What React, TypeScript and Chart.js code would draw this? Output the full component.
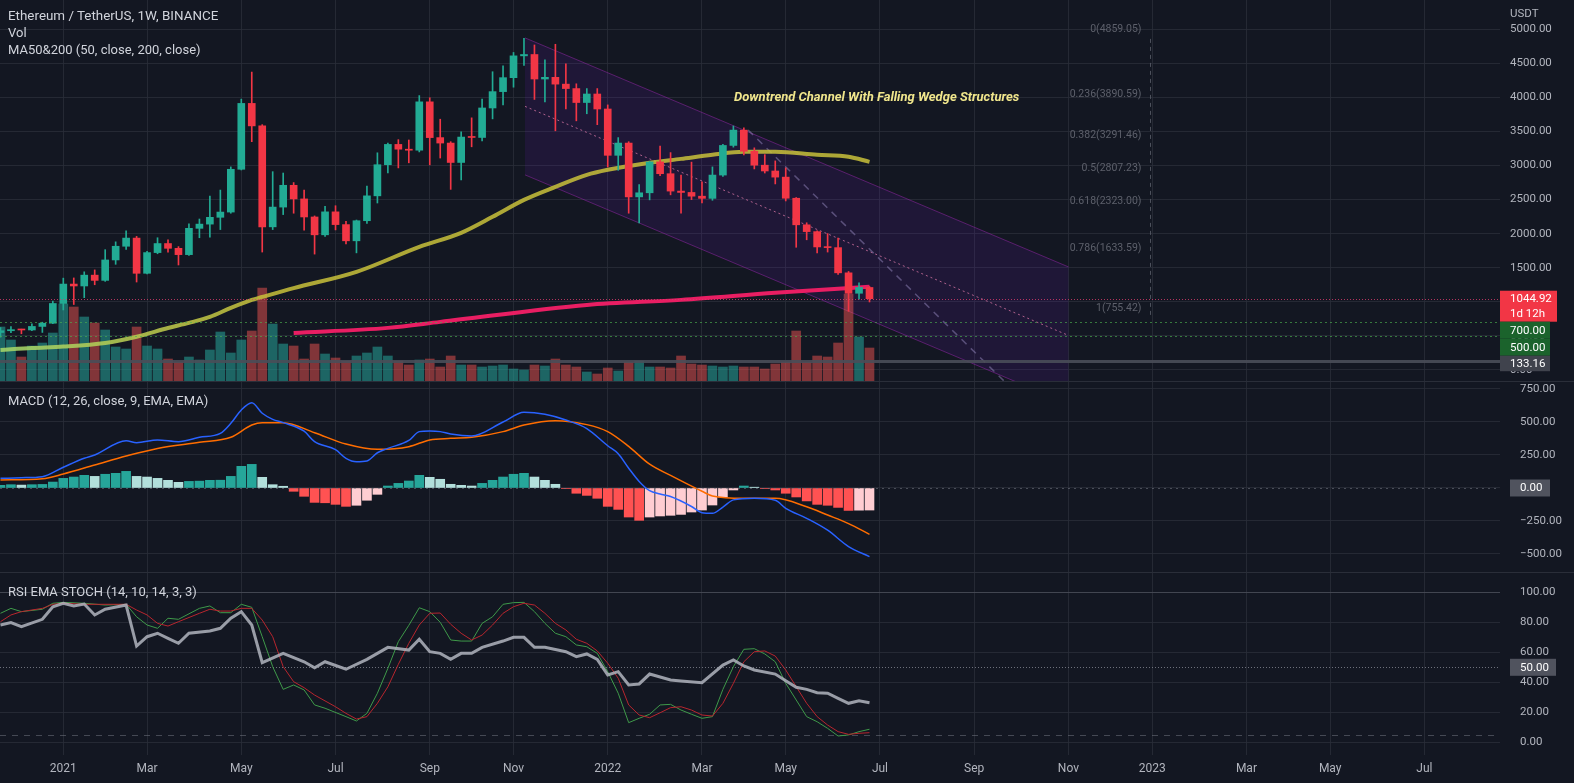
import React, { useEffect, useRef } from 'react';
import { Chart, registerables } from 'chart.js';

Chart.register(...registerables);

// ---------- layout constants ----------
const WIDTH = 1574;
const PRICE_H = 382;
const MACD_H = 191;
const RSI_H = 210;
const AXIS_W = 74;
const GRID = 'rgba(42,46,57,0.8)';
const BG = '#131722';
const TXT = '#b2b5be';
const FONT = 'Roboto, "Liberation Sans", sans-serif';

// ---------- time axis (week index, 0 = week of 4 Jan 2021) ----------
const FIRST_WEEK = -6;
const X_MIN = -6.046;
const X_MAX = 137.22;
const tickWeeks = [0, 8, 17, 26, 35, 43, 52, 61, 69, 78, 87, 96, 104, 113, 121, 130];
const tickLabels = ['2021', 'Mar', 'May', 'Jul', 'Sep', 'Nov', '2022', 'Mar', 'May', 'Jul', 'Sep', 'Nov', '2023', 'Mar', 'May', 'Jul'];

// ---------- weekly candles ETH/USDT (Nov 23 2020 .. Jun 27 2022) ----------
const opens = [549, 575, 591, 586, 638, 685, 975, 1260, 1232, 1391, 1314, 1614, 1815, 1935, 1418, 1722, 1855, 1785, 1692, 2078, 2140, 2240, 2317, 2945, 3912, 3582, 2100, 2390, 2710, 2510, 2245, 1983, 2320, 2133, 1895, 2190, 2555, 3012, 3310, 3240, 3225, 3935, 3410, 3330, 3045, 3418, 3412, 3845, 4085, 4290, 4610, 4630, 4270, 4295, 4195, 4130, 3925, 4050, 3830, 3150, 3330, 2540, 2600, 3053, 2880, 2625, 2605, 2550, 2518, 2860, 3295, 3520, 3210, 3005, 2920, 2830, 2520, 2130, 2030, 1805, 1795, 1425, 1125, 1210];
const highs = [623, 635, 598, 676, 700, 1010, 1347, 1350, 1440, 1468, 1765, 1880, 2040, 1960, 1740, 1940, 1910, 1810, 2145, 2215, 2550, 2640, 2980, 3975, 4372, 3600, 2910, 2890, 2750, 2640, 2260, 2400, 2410, 2180, 2200, 2700, 3187, 3330, 3380, 3375, 4027, 3995, 3680, 3350, 3494, 3700, 3975, 4377, 4463, 4660, 4868, 4770, 4550, 4780, 4493, 4200, 4130, 4130, 3890, 3410, 3350, 2720, 3060, 3285, 3190, 2860, 3050, 2760, 2980, 3310, 3580, 3552, 3260, 3160, 3068, 2965, 2530, 2160, 2040, 2000, 1935, 1445, 1280, 1225];
const lows = [480, 545, 530, 575, 550, 680, 880, 960, 1060, 1250, 1300, 1550, 1770, 1290, 1410, 1705, 1730, 1540, 1680, 1940, 1950, 2060, 2300, 2935, 3350, 1730, 2060, 2280, 2300, 2050, 1700, 1960, 2055, 1850, 1718, 2150, 2450, 2890, 2965, 3040, 3200, 3010, 3110, 2650, 2790, 3275, 3360, 3685, 3890, 4150, 4470, 3970, 3935, 3510, 3830, 3656, 3760, 3600, 2980, 2930, 2300, 2159, 2496, 2850, 2570, 2300, 2500, 2450, 2490, 2840, 3270, 3156, 2950, 2890, 2730, 2480, 1800, 1910, 1716, 1730, 1400, 860, 1040, 997];
const closes = [575, 591, 586, 638, 685, 975, 1260, 1232, 1391, 1314, 1614, 1815, 1935, 1418, 1722, 1855, 1785, 1692, 2078, 2140, 2240, 2317, 2945, 3912, 3582, 2100, 2390, 2710, 2510, 2245, 1983, 2320, 2133, 1895, 2190, 2555, 3012, 3310, 3240, 3225, 3935, 3410, 3330, 3045, 3418, 3412, 3845, 4085, 4290, 4610, 4630, 4270, 4295, 4195, 4130, 3925, 4050, 3830, 3150, 3330, 2540, 2600, 3053, 2880, 2625, 2605, 2550, 2518, 2860, 3295, 3520, 3210, 3005, 2920, 2830, 2520, 2130, 2030, 1805, 1795, 1425, 1125, 1210, 1044.92];
// volume, millions of ETH
const volumes = [8.25, 6.3, 3.75, 5.4, 5.85, 7.35, 11.7, 11.25, 9.75, 8.85, 7.8, 5.25, 4.95, 8.25, 5.4, 4.95, 3.45, 3.0, 3.75, 3.3, 4.8, 7.5, 4.35, 6.3, 7.65, 14.1, 8.7, 5.7, 5.4, 3.45, 5.7, 4.2, 3.6, 3.15, 3.9, 4.35, 5.25, 3.9, 3.15, 2.55, 3.3, 3.45, 2.25, 3.9, 2.55, 2.55, 2.25, 2.4, 2.55, 1.95, 1.8, 2.55, 2.4, 3.45, 2.55, 2.25, 1.5, 1.2, 2.1, 1.65, 3.0, 3.15, 2.25, 2.25, 2.1, 3.9, 2.7, 2.55, 2.4, 2.25, 2.4, 2.25, 2.25, 1.95, 2.7, 3.0, 7.65, 3.0, 3.9, 3.75, 5.85, 13.2, 6.75, 5.1];
const VOL_MAX = 57.3;
const priceTicks = [0, 500, 1000, 1500, 2000, 2500, 3000, 3500, 4000, 4500, 5000];

// moving averages (sampled)
const ma50Weeks = [-6, -3, 0, 4, 7, 10, 12, 14, 16, 18, 19, 22, 28, 34, 38, 41, 44, 47, 50, 52, 56, 59, 62, 65, 68, 72, 75, 77];
const ma50Values = [293, 322, 342, 395, 487, 615, 690, 778, 910, 1027, 1071, 1200, 1439, 1806, 2012, 2247, 2496, 2687, 2863, 2937, 3040, 3098, 3157, 3201, 3201, 3157, 3128, 3054];
const ma200Weeks = [22, 31, 36, 50, 59, 68, 77];
const ma200Values = [543, 617, 705, 954, 1028, 1131, 1219];

// drawings
const channelWeeks = [44.1, 96.0];
const channelUpper = [4874, 1512];
const channelLower = [2863, -499];
const wedgeWeeks = [65.4, 90];
const wedgePrices = [3522, -185];
const fibWeek = 103.8;
const fibRatios = ['0', '0.236', '0.382', '0.5', '0.618', '0.786', '1'];
const fibPrices = [4859.05, 3890.59, 3291.46, 2807.23, 2323.0, 1633.59, 755.42];
const lastPrice = 1044.92;
const greenLevels = [700, 500];
const grayLevel = 133.16;

// ---------- MACD ----------
const macdHist = [20, 25, 22, 25, 27, 45, 73, 83, 96, 88, 104, 111, 126, 88, 83, 73, 58, 43, 50, 52, 58, 59, 88, 164, 179, 81, 25, 13, -25, -63, -109, -112, -124, -139, -131, -93, -48, 15, 35, 53, 96, 81, 66, 28, 20, 15, 35, 58, 83, 104, 111, 83, 58, 28, -3, -40, -56, -78, -139, -162, -220, -245, -220, -212, -207, -200, -182, -167, -129, -68, -15, 15, 6, -3, -15, -40, -68, -98, -124, -131, -147, -170, -168, -167];
const macdWeeks = [-6, -4, -2, 0, 2, 3, 6, 7, 9, 11, 13, 15, 16, 17, 18, 19, 20, 21, 23, 24, 26, 27, 28, 29, 30, 31, 33, 34, 35, 36, 37, 39, 42, 44, 46, 48, 50, 52, 53, 54, 55, 56, 57, 58, 60, 61, 62, 63, 64, 66, 68, 69, 71, 73, 75, 77];
const macdValues = [73, 78, 86, 157, 225, 250, 358, 343, 364, 351, 384, 414, 490, 591, 646, 566, 520, 495, 430, 351, 290, 225, 199, 205, 267, 300, 360, 427, 432, 427, 409, 394, 500, 573, 558, 515, 450, 320, 260, 150, 50, -20, -45, -65, -140, -187, -192, -145, -90, -78, -93, -154, -230, -320, -444, -520];
const signalWeeks = [-6, -2, 0, 3, 6, 9, 13, 16, 18, 19, 21, 24, 27, 30, 33, 35, 37, 39, 42, 44, 47, 50, 52, 54, 56, 58, 61, 62, 65, 68, 71, 73, 75, 77];
const signalValues = [61, 70, 106, 174, 242, 300, 346, 384, 477, 495, 495, 419, 333, 293, 313, 364, 376, 384, 427, 477, 510, 480, 427, 315, 180, 95, -25, -60, -78, -78, -142, -205, -270, -351];
const macdTicks = [-500, -250, 0, 250, 500, 750];

// ---------- RSI EMA STOCH ----------
const rsiWeeks = [-6, -5, -4, -2, -1, 0, 1, 2, 3, 4, 6, 7, 8, 9, 10, 11, 12, 14, 15, 16, 17, 18, 19, 21, 23, 24, 25, 27, 29, 31, 33, 34, 35, 36, 37, 38, 39, 40, 42, 43, 44, 45, 46, 48, 49, 50, 51, 52, 53, 54, 55, 56, 58, 59, 61, 63, 64, 65, 66, 68, 69, 70, 71, 72, 73, 74, 75, 76, 77];
const rsiValues = [78.2, 79.8, 77.1, 82, 90.4, 92.7, 90.9, 92.2, 84.9, 88.7, 91.5, 64.2, 70.4, 72.7, 69.3, 66, 72.7, 74.2, 76, 82.7, 87.1, 78.2, 53.1, 59.3, 53.7, 49.7, 53.7, 48.7, 55.3, 63.3, 61.5, 68.7, 60.4, 59.3, 55.3, 59.3, 59.3, 63.3, 67.5, 70, 70, 63.3, 63.3, 60.4, 57.1, 58.9, 55.3, 44.9, 47.1, 38.2, 38.9, 45.5, 41.5, 40.9, 39.7, 51.5, 54.9, 50.9, 48.2, 45.5, 41.1, 36.7, 35.3, 33.1, 32.7, 29.3, 26, 27.7, 26.4];
const kWeeks = [-6, -5, -4, -2, -1, 0, 2, 4, 6, 7, 8, 9, 10, 11, 13, 14, 15, 16, 17, 18, 19, 20, 21, 22, 23, 24, 25, 27, 28, 29, 30, 31, 32, 33, 34, 35, 36, 37, 38, 39, 40, 41, 42, 43, 44, 45, 46, 47, 48, 49, 50, 51, 52, 53, 54, 55, 56, 57, 58, 59, 60, 61, 62, 63, 64, 65, 66, 67, 68, 69, 70, 71, 72, 73, 74, 75, 76, 77];
const kValues = [86, 89.3, 87.1, 88.7, 92.7, 93.3, 92.7, 91.5, 92, 83.7, 78.2, 76, 82.7, 82, 89.3, 90.9, 86.4, 86.4, 92, 90, 70.4, 50.4, 35.3, 38.2, 34.9, 24.9, 22.7, 17.1, 14.2, 19.3, 32.7, 49.3, 67.1, 78, 89.7, 87.1, 80, 68.2, 67.5, 67.5, 79.3, 83.7, 92, 93.1, 93.3, 87.1, 79.3, 72.7, 70.4, 64.9, 63.7, 59.3, 47.1, 32.7, 13.1, 16, 18.7, 24.9, 25.3, 21.5, 18.7, 16, 17.1, 35.3, 50.4, 62, 62.4, 58.9, 53.7, 39.3, 28.2, 17.1, 13.7, 9.3, 4.2, 4.9, 7.1, 8.7];
const dWeeks = [-6, -5, -4, -2, -1, 0, 2, 6, 7, 8, 9, 10, 11, 13, 14, 15, 16, 17, 18, 19, 20, 21, 22, 23, 24, 26, 27, 28, 29, 30, 31, 32, 33, 34, 35, 36, 37, 38, 39, 40, 41, 42, 43, 44, 45, 46, 47, 48, 49, 50, 51, 52, 53, 54, 55, 56, 57, 58, 59, 60, 61, 62, 63, 64, 65, 66, 67, 68, 69, 70, 71, 72, 73, 74, 75, 76, 77];
const dValues = [80.4, 84.9, 87.1, 89.3, 92, 92.7, 92, 92, 88.2, 84.9, 79.3, 77.5, 80.4, 86, 88.7, 87.5, 87.5, 89.3, 89.3, 81.5, 70.4, 50.4, 40.4, 36.4, 31.5, 23.7, 19.3, 15.5, 17.1, 26, 37, 52, 66, 78.2, 86, 86.2, 78.7, 72.7, 68.2, 71.5, 78.2, 86, 90.4, 92.7, 91.5, 86, 79.3, 74.9, 68.7, 66, 60.9, 52.7, 42.7, 24.9, 18.2, 16.4, 19.7, 23.1, 23.7, 21.5, 18.2, 17.5, 26, 39.3, 53.7, 60.4, 60.9, 57.5, 48.2, 37.1, 26, 17.1, 11.5, 7.1, 5.3, 6, 6.4];
const rsiTicks = [0, 20, 40, 60, 80, 100];

// ---------- helpers ----------
const UP = '#22ab94';
const DOWN = '#f23645';
const weeks = opens.map((_, i) => FIRST_WEEK + i);
const pts = (ws: number[], vs: number[]) => ws.map((w, i) => ({ x: w, y: vs[i] }));
const fmt2 = (v: number) => v.toFixed(2).replace('-', '\u2212');

function xScale(showLabels: boolean): any {
  return {
    type: 'linear',
    min: X_MIN,
    max: X_MAX,
    offset: false,
    grid: { color: GRID, drawTicks: false, offset: false },
    border: { display: false },
    ticks: {
      display: showLabels,
      autoSkip: false,
      maxRotation: 0,
      padding: 7,
      color: TXT,
      font: { size: 12, family: FONT },
      callback: (_v: any, i: number) => tickLabels[i] ?? '',
    },
    afterBuildTicks: (s: any) => {
      s.ticks = tickWeeks.map((v) => ({ value: v }));
    },
    afterFit: (s: any) => {
      s.height = showLabels ? 28 : 0;
      s.paddingLeft = 0;
      s.paddingRight = 0;
    },
  };
}

function yScale(min: number, max: number, ticks: number[], padding: number): any {
  return {
    type: 'linear',
    position: 'right',
    min,
    max,
    grid: { color: GRID, drawTicks: false },
    border: { display: false },
    ticks: {
      color: TXT,
      padding,
      autoSkip: false,
      font: { size: 11.5, family: FONT },
      callback: (v: any) => fmt2(Number(v)),
    },
    afterBuildTicks: (s: any) => {
      s.ticks = ticks.map((v) => ({ value: v }));
    },
    afterFit: (s: any) => {
      s.width = AXIS_W;
      s.paddingTop = 0;
      s.paddingBottom = 0;
    },
  };
}

function baseOptions(scales: any): any {
  return {
    responsive: false,
    maintainAspectRatio: false,
    animation: false,
    devicePixelRatio: 1,
    events: [],
    layout: { padding: 0 },
    plugins: { legend: { display: false }, tooltip: { enabled: false } },
    scales,
  };
}

function clipArea(ctx: CanvasRenderingContext2D, a: any) {
  ctx.beginPath();
  ctx.rect(a.left, a.top, a.right - a.left, a.bottom - a.top);
  ctx.clip();
}

function hline(ctx: CanvasRenderingContext2D, a: any, y: number, color: string, width: number, dash: number[]) {
  ctx.save();
  ctx.strokeStyle = color;
  ctx.lineWidth = width;
  ctx.setLineDash(dash);
  ctx.beginPath();
  ctx.moveTo(a.left, Math.round(y) + 0.5);
  ctx.lineTo(a.right, Math.round(y) + 0.5);
  ctx.stroke();
  ctx.restore();
}

function labelBox(ctx: CanvasRenderingContext2D, x0: number, x1: number, top: number, h: number, fill: string, lines: string[], textX: number) {
  ctx.save();
  ctx.fillStyle = fill;
  ctx.fillRect(x0, top, x1 - x0, h);
  ctx.fillStyle = '#ffffff';
  ctx.font = `11.5px ${FONT}`;
  ctx.textAlign = 'left';
  ctx.textBaseline = 'middle';
  const lh = h / lines.length;
  lines.forEach((t, i) => ctx.fillText(t, textX, top + lh * i + lh / 2 + 0.5));
  ctx.restore();
}

// ---------- plugins ----------
const pricePlugin = {
  id: 'priceDecor',
  beforeDatasetsDraw(chart: any) {
    const { ctx, chartArea: a, scales } = chart;
    const X = (w: number) => scales.x.getPixelForValue(w);
    const Y = (p: number) => scales.y.getPixelForValue(p);
    ctx.save();
    clipArea(ctx, a);
    const [w0, w1] = channelWeeks;
    // channel fill
    ctx.beginPath();
    ctx.moveTo(X(w0), Y(channelUpper[0]));
    ctx.lineTo(X(w1), Y(channelUpper[1]));
    ctx.lineTo(X(w1), Y(channelLower[1]));
    ctx.lineTo(X(w0), Y(channelLower[0]));
    ctx.closePath();
    ctx.fillStyle = 'rgba(100,30,180,0.15)';
    ctx.fill();
    // channel borders
    ctx.strokeStyle = 'rgba(156,39,176,0.5)';
    ctx.lineWidth = 1;
    ctx.beginPath();
    ctx.moveTo(X(w0), Y(channelUpper[0]));
    ctx.lineTo(X(w1), Y(channelUpper[1]));
    ctx.moveTo(X(w0), Y(channelLower[0]));
    ctx.lineTo(X(w1), Y(channelLower[1]));
    ctx.stroke();
    // midline
    ctx.strokeStyle = 'rgba(236,128,175,0.7)';
    ctx.setLineDash([2, 3]);
    ctx.beginPath();
    ctx.moveTo(X(w0), Y((channelUpper[0] + channelLower[0]) / 2));
    ctx.lineTo(X(w1), Y((channelUpper[1] + channelLower[1]) / 2));
    ctx.stroke();
    // wedge line
    ctx.strokeStyle = 'rgba(150,135,190,0.5)';
    ctx.lineWidth = 1.5;
    ctx.setLineDash([7, 6]);
    ctx.beginPath();
    ctx.moveTo(X(wedgeWeeks[0]), Y(wedgePrices[0]));
    ctx.lineTo(X(wedgeWeeks[1]), Y(wedgePrices[1]));
    ctx.stroke();
    // fib vertical line
    ctx.strokeStyle = 'rgba(93,96,107,0.8)';
    ctx.lineWidth = 1;
    ctx.setLineDash([4, 4]);
    const fx = Math.round(X(fibWeek)) + 0.5;
    ctx.beginPath();
    ctx.moveTo(fx, Y(fibPrices[0]));
    ctx.lineTo(fx, Y(fibPrices[fibPrices.length - 1]));
    ctx.stroke();
    ctx.setLineDash([]);
    // fib labels
    ctx.fillStyle = '#5d606b';
    ctx.font = `10.5px ${FONT}`;
    ctx.textAlign = 'right';
    ctx.textBaseline = 'middle';
    fibPrices.forEach((p, i) => {
      ctx.fillText(`${fibRatios[i]}(${p.toFixed(2)})`, fx - 9, Y(p) - 10);
    });
    ctx.restore();
  },
  afterDatasetsDraw(chart: any) {
    const { ctx, chartArea: a, scales } = chart;
    const Y = (p: number) => scales.y.getPixelForValue(p);
    ctx.save();
    clipArea(ctx, a);
    hline(ctx, a, Y(grayLevel), 'rgba(74,78,89,0.9)', 3, []);
    greenLevels.forEach((v) => hline(ctx, a, Y(v), 'rgba(76,175,80,0.65)', 1, [2, 3]));
    hline(ctx, a, Y(lastPrice), 'rgba(220,60,110,0.8)', 1, [1, 2]);
    ctx.restore();
  },
  afterDraw(chart: any) {
    const { ctx, chartArea: a, scales } = chart;
    const Y = (p: number) => scales.y.getPixelForValue(p);
    const x0 = a.right;
    const tx = a.right + 10;
    // current price box
    const redTop = Y(lastPrice) - 8;
    labelBox(ctx, x0, x0 + 57, redTop, 31, DOWN, [lastPrice.toFixed(2), '1d 12h'], tx);
    let prevBottom = redTop + 31;
    greenLevels.forEach((v) => {
      const top = Math.max(Y(v) - 8.5, prevBottom);
      labelBox(ctx, x0, x0 + 50, top, 17, '#1b632c', [v.toFixed(2)], tx);
      prevBottom = top + 17;
    });
    const gTop = Math.max(Y(grayLevel) - 8.5, prevBottom);
    labelBox(ctx, x0, x0 + 50, gTop, 15.5, '#40434d', [grayLevel.toFixed(2)], tx);
  },
};

const macdPlugin = {
  id: 'macdDecor',
  afterDatasetsDraw(chart: any) {
    const { ctx, chartArea: a, scales } = chart;
    hline(ctx, a, scales.y.getPixelForValue(0), 'rgba(120,123,134,0.55)', 1, [2, 4]);
  },
  afterDraw(chart: any) {
    const { ctx, chartArea: a, scales } = chart;
    const y0 = scales.y.getPixelForValue(0);
    labelBox(ctx, a.right + 10, a.right + 50, y0 - 8.5, 17, '#50535e', ['0.00'], a.right + 20);
  },
};

const rsiPlugin = {
  id: 'rsiDecor',
  beforeDatasetsDraw(chart: any) {
    const { ctx, chartArea: a, scales } = chart;
    const Y = (v: number) => scales.y.getPixelForValue(v);
    hline(ctx, a, Y(100), 'rgba(120,123,134,0.35)', 1, []);
    hline(ctx, a, Y(5), 'rgba(120,123,134,0.5)', 1, [6, 6]);
    hline(ctx, a, Y(50), 'rgba(140,143,154,0.75)', 1, [1, 2]);
  },
  afterDraw(chart: any) {
    const { ctx, chartArea: a, scales } = chart;
    const y = scales.y.getPixelForValue(50);
    labelBox(ctx, a.right + 10, a.right + 56, y - 8.5, 17, '#50535e', ['50.00'], a.right + 20);
  },
};

// ---------- component ----------
export default function App() {
  const priceRef = useRef<HTMLCanvasElement>(null);
  const macdRef = useRef<HTMLCanvasElement>(null);
  const rsiRef = useRef<HTMLCanvasElement>(null);

  useEffect(() => {
    Chart.defaults.font.family = FONT;
    const candleColors = opens.map((o, i) => (closes[i] >= o ? UP : DOWN));
    const volColors = opens.map((o, i) => (closes[i] >= o ? 'rgba(38,166,154,0.55)' : 'rgba(239,83,80,0.5)'));

    const ma50Color = (c: any) => {
      const chart = c.chart;
      const area = chart.chartArea;
      if (!area) return 'rgba(201,193,58,0.85)';
      const g = chart.ctx.createLinearGradient(area.left, 0, area.right, 0);
      g.addColorStop(0, 'rgba(160,210,106,0.9)');
      g.addColorStop(0.1, 'rgba(185,201,77,0.88)');
      g.addColorStop(0.18, 'rgba(201,193,58,0.85)');
      g.addColorStop(1, 'rgba(201,193,58,0.85)');
      return g;
    };

    const price = new Chart(priceRef.current!, {
      type: 'bar',
      data: {
        datasets: [
          {
            type: 'bar',
            label: 'Vol',
            yAxisID: 'yv',
            data: weeks.map((w, i) => ({ x: w, y: volumes[i] })) as any,
            backgroundColor: volColors,
            barThickness: 9,
            grouped: false,
            order: 10,
          } as any,
          {
            type: 'line',
            label: 'MA200',
            yAxisID: 'y',
            data: pts(ma200Weeks, ma200Values),
            borderColor: '#e91e63',
            borderWidth: 4,
            pointRadius: 0,
            cubicInterpolationMode: 'monotone',
            order: 4,
          },
          {
            type: 'line',
            label: 'MA50',
            yAxisID: 'y',
            data: pts(ma50Weeks, ma50Values),
            borderColor: ma50Color,
            borderWidth: 4,
            pointRadius: 0,
            cubicInterpolationMode: 'monotone',
            order: 3,
          },
          {
            type: 'bar',
            label: 'wick',
            yAxisID: 'y',
            data: weeks.map((w, i) => ({ x: w, y: [lows[i], highs[i]] })) as any,
            backgroundColor: candleColors,
            barThickness: 1,
            grouped: false,
            order: 1,
          } as any,
          {
            type: 'bar',
            label: 'body',
            yAxisID: 'y',
            data: weeks.map((w, i) => ({ x: w, y: [opens[i], closes[i]] })) as any,
            backgroundColor: candleColors,
            barThickness: 7,
            minBarLength: 1,
            grouped: false,
            order: 0,
          } as any,
        ],
      },
      options: baseOptions({
        x: xScale(false),
        y: yScale(-177.6, 5430, priceTicks, 10),
        yv: { type: 'linear', display: false, min: 0, max: VOL_MAX },
      }),
      plugins: [pricePlugin],
    });

    const histColors = macdHist.map((v, i) => {
      const p = i > 0 ? macdHist[i - 1] : v - 1;
      if (v >= 0) return p < v ? '#26a69a' : '#b2dfdb';
      return p < v ? '#ffcdd2' : '#ff5252';
    });

    const macd = new Chart(macdRef.current!, {
      type: 'bar',
      data: {
        datasets: [
          {
            type: 'bar',
            label: 'Histogram',
            data: weeks.map((w, i) => ({ x: w, y: macdHist[i] })) as any,
            backgroundColor: histColors,
            barThickness: 9,
            grouped: false,
            order: 5,
          } as any,
          {
            type: 'line',
            label: 'Signal',
            data: pts(signalWeeks, signalValues),
            borderColor: '#ff6d00',
            borderWidth: 1.5,
            pointRadius: 0,
            cubicInterpolationMode: 'monotone',
            order: 1,
          },
          {
            type: 'line',
            label: 'MACD',
            data: pts(macdWeeks, macdValues),
            borderColor: '#2962ff',
            borderWidth: 1.5,
            pointRadius: 0,
            cubicInterpolationMode: 'monotone',
            order: 0,
          },
        ],
      },
      options: baseOptions({
        x: xScale(false),
        y: yScale(-644, 803, macdTicks, 20),
      }),
      plugins: [macdPlugin],
    });

    const rsi = new Chart(rsiRef.current!, {
      type: 'line',
      data: {
        datasets: [
          {
            label: 'K',
            data: pts(kWeeks, kValues),
            borderColor: '#3f9a4a',
            borderWidth: 1,
            pointRadius: 0,
            order: 2,
          },
          {
            label: 'D',
            data: pts(dWeeks, dValues),
            borderColor: '#b8262e',
            borderWidth: 1,
            pointRadius: 0,
            order: 1,
          },
          {
            label: 'RSI EMA',
            data: pts(rsiWeeks, rsiValues),
            borderColor: 'rgba(178,181,190,0.85)',
            borderWidth: 3,
            pointRadius: 0,
            order: 0,
          },
        ],
      },
      options: baseOptions({
        x: xScale(true),
        y: yScale(-8.47, 112.87, rsiTicks, 20),
      }),
      plugins: [rsiPlugin],
    });

    return () => {
      price.destroy();
      macd.destroy();
      rsi.destroy();
    };
  }, []);

  const legend: React.CSSProperties = {
    position: 'absolute',
    left: 8,
    font: `13px ${FONT}`,
    lineHeight: '16px',
    color: '#d1d4dc',
    whiteSpace: 'nowrap',
  };

  return (
    <div style={{ position: 'fixed', left: 0, top: 0, width: WIDTH, height: 783, background: BG, overflow: 'hidden' }}>
      <canvas ref={priceRef} width={WIDTH} height={PRICE_H} style={{ position: 'absolute', left: 0, top: 0 }} />
      <canvas ref={macdRef} width={WIDTH} height={MACD_H} style={{ position: 'absolute', left: 0, top: PRICE_H }} />
      <canvas ref={rsiRef} width={WIDTH} height={RSI_H} style={{ position: 'absolute', left: 0, top: PRICE_H + MACD_H }} />
      <div style={{ position: 'absolute', left: 0, top: PRICE_H - 1, width: WIDTH, height: 1, background: '#2a2e39' }} />
      <div style={{ position: 'absolute', left: 0, top: PRICE_H + MACD_H - 1, width: WIDTH, height: 1, background: '#2a2e39' }} />
      <div style={{ ...legend, top: 8, fontSize: 13.4 }}>Ethereum / TetherUS, 1W, BINANCE</div>
      <div style={{ ...legend, top: 25 }}>Vol</div>
      <div style={{ ...legend, top: 42 }}>MA50&amp;200 (50, close, 200, close)</div>
      <div style={{ ...legend, top: 392.7 }}>MACD (12, 26, close, 9, EMA, EMA)</div>
      <div style={{ ...legend, top: 583.7 }}>RSI EMA STOCH (14, 10, 14, 3, 3)</div>
      <div style={{ position: 'absolute', left: 1510, top: 5, font: `11.5px ${FONT}`, lineHeight: '16px', color: TXT }}>USDT</div>
      <div
        style={{
          position: 'absolute',
          left: 734,
          top: 88,
          font: `italic bold 13px ${FONT}`,
          lineHeight: '17px',
          color: '#f0e68c',
          whiteSpace: 'nowrap',
        }}
      >
        Downtrend Channel With Falling Wedge Structures
      </div>
    </div>
  );
}
